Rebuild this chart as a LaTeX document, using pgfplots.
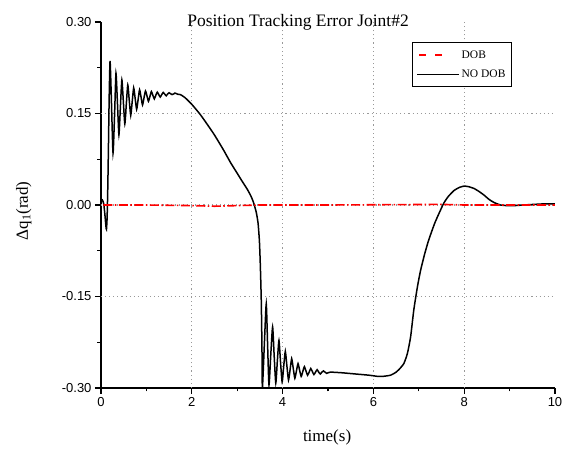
\documentclass[border=0pt]{standalone}
\usepackage{pgfplots}
\pgfplotsset{compat=1.18}
\usepackage{fontspec}
\setmainfont{Liberation Serif}
\newfontfamily\arialfont{Liberation Sans}

\pgfplotstableread{
x y
0.000 0.005
0.030 0.008
0.060 0.002
0.085 -0.015
0.105 -0.032
0.120 -0.040
0.135 -0.020
0.150 0.030
0.165 0.100
0.180 0.175
0.200 0.236
0.230 0.170
0.265 0.085
0.300 0.150
0.330 0.216
0.362 0.168
0.395 0.115
0.428 0.162
0.460 0.205
0.492 0.170
0.525 0.133
0.558 0.166
0.590 0.197
0.622 0.172
0.655 0.147
0.688 0.170
0.720 0.192
0.752 0.175
0.785 0.157
0.818 0.173
0.850 0.189
0.882 0.177
0.915 0.164
0.948 0.176
0.980 0.187
1.012 0.179
1.045 0.170
1.078 0.178
1.110 0.186
1.142 0.180
1.175 0.174
1.208 0.180
1.240 0.185
1.272 0.181
1.305 0.177
1.338 0.181
1.370 0.1845
1.402 0.182
1.435 0.179
1.468 0.182
1.500 0.184
1.532 0.1825
1.565 0.181
1.598 0.182
1.630 0.1835
1.662 0.1825
1.695 0.1815
1.750 0.181
1.850 0.176
2.000 0.165
2.200 0.147
2.480 0.117
2.700 0.090
2.850 0.070
3.000 0.052
3.100 0.040
3.220 0.026
3.300 0.015
3.360 0.004
3.420 -0.012
3.460 -0.030
3.490 -0.060
3.510 -0.100
3.530 -0.156
3.545 -0.230
3.555 -0.300
3.600 -0.225
3.640 -0.162
3.670 -0.230
3.700 -0.295
3.740 -0.245
3.780 -0.200
3.815 -0.248
3.850 -0.292
3.885 -0.255
3.920 -0.222
3.955 -0.258
3.990 -0.290
4.025 -0.264
4.060 -0.240
4.095 -0.264
4.130 -0.287
4.165 -0.270
4.200 -0.252
4.235 -0.268
4.270 -0.284
4.305 -0.272
4.340 -0.260
4.375 -0.271
4.410 -0.281
4.445 -0.273
4.480 -0.265
4.515 -0.272
4.550 -0.279
4.585 -0.274
4.620 -0.268
4.655 -0.273
4.690 -0.278
4.725 -0.274
4.760 -0.270
4.795 -0.274
4.830 -0.277
4.865 -0.274
4.900 -0.272
4.935 -0.274
4.970 -0.276
5.050 -0.274
5.300 -0.275
5.600 -0.277
5.900 -0.279
6.100 -0.281
6.200 -0.281
6.380 -0.279
6.500 -0.274
6.560 -0.270
6.670 -0.260
6.750 -0.243
6.820 -0.216
6.890 -0.172
6.970 -0.134
7.040 -0.107
7.130 -0.080
7.220 -0.057
7.350 -0.030
7.450 -0.013
7.550 0.003
7.650 0.014
7.780 0.024
7.900 0.029
8.000 0.031
8.100 0.030
8.220 0.027
8.330 0.022
8.440 0.016
8.550 0.009
8.660 0.004
8.800 0.000
8.950 -0.001
9.100 -0.001
9.300 0.000
9.540 0.001
9.800 0.002
10.000 0.002
}\nodob

\pgfplotstableread{
x y
0.05 0.000
1.00 0.000
2.00 -0.001
2.50 -0.002
3.00 -0.001
3.50 0.000
5.00 0.000
7.50 0.001
8.00 0.000
10.00 0.000
}\dob

\begin{document}
\begin{tikzpicture}
\begin{axis}[
  scale only axis,
  width=454pt, height=366pt,
  xmin=0, xmax=10, ymin=-0.30, ymax=0.30,
  axis x line*=bottom, axis y line*=left,
  axis line style={black, line width=1.1pt},
  xtick={0,2,4,6,8,10},
  xticklabels={0,2,4,6,8,10},
  minor xtick={1,3,5,7,9},
  ytick={-0.30,-0.15,0,0.15,0.30},
  yticklabels={-0.30,-0.15,0.00,0.15,0.30},
  minor ytick={-0.225,-0.075,0.075,0.225},
  tick align=outside,
  major tick length=6pt, minor tick length=3.5pt,
  every tick/.style={black, line width=1.1pt},
  tick label style={font=\arialfont\fontsize{13}{13}\selectfont},
  extra x ticks={2,4,6,8}, extra x tick labels={},
  extra y ticks={-0.15,0,0.15}, extra y tick labels={},
  extra tick style={grid=major, major tick length=0pt},
  major grid style={gray!80, line width=1.1pt, dash pattern=on 1.1pt off 3pt},
  xlabel={time(s)},
  xlabel style={at={(rel axis cs:0.498,-0.134)}, anchor=center, font=\fontsize{17}{17}\selectfont},
  ylabel={Δq\textsubscript{1}(rad)},
  ylabel style={at={(rel axis cs:-0.17,0.484)}, anchor=center, font=\fontsize{17}{17}\selectfont},
  title={Position Tracking Error Joint\#2},
  title style={at={(rel axis cs:0.434,0.972)}, anchor=base, font=\fontsize{17.5}{17.5}\selectfont},
  legend style={at={(rel axis cs:0.685,0.945)}, anchor=north west, draw=black, line width=0.8pt,
    font=\fontsize{11.5}{13}\selectfont, inner xsep=4pt, inner ysep=6pt, row sep=6pt},
  legend cell align=left,
]
\addlegendimage{legend image code/.code={\draw[red, line width=1.6pt, dash pattern=on 7pt off 9pt] (2pt,0pt) -- (27pt,0pt);}}
\addlegendentry{DOB}
\addlegendimage{legend image code/.code={\draw[black, line width=1.3pt] (0pt,0pt) -- (42pt,0pt);}}
\addlegendentry{NO DOB}
\addplot[black, line width=1.5pt, smooth, tension=0.35, forget plot] table[x=x, y=y] {\nodob};
\addplot[red, line width=1.6pt, dash pattern=on 9pt off 2.5pt on 1.5pt off 2.5pt, forget plot] table[x=x, y=y] {\dob};
\end{axis}
\path (current axis.south west) ++(-101pt,-60pt) rectangle ++(566pt,448pt);
\end{tikzpicture}
\end{document}
